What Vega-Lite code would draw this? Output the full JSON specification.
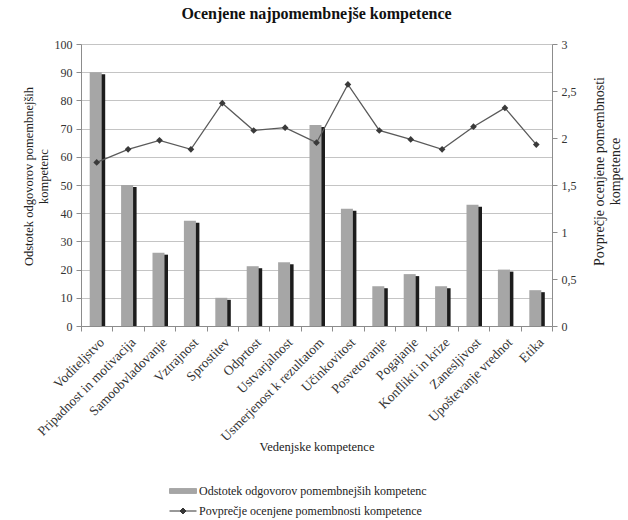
{
  "$schema": "https://vega.github.io/schema/vega-lite/v6.json",
  "width": 471,
  "height": 282,
  "autosize": {"type": "none"},
  "padding": {"left": 81, "top": 44, "right": 76, "bottom": 194},
  "background": "white",
  "config": {
    "font": "Liberation Serif",
    "view": {"stroke": null},
    "axis": {
      "labelFont": "Liberation Serif",
      "titleFont": "Liberation Serif",
      "labelFontSize": 12,
      "titleFontSize": 12.5,
      "titleFontWeight": "normal",
      "labelColor": "#333333",
      "titleColor": "#222222",
      "domainColor": "#8c8c8c",
      "tickColor": "#8c8c8c",
      "tickSize": 5,
      "gridColor": "#c4c4c4"
    }
  },
  "title": {
    "text": "Ocenjene najpomembnejše kompetence",
    "font": "Liberation Serif",
    "fontSize": 16,
    "fontWeight": "bold",
    "color": "#111111",
    "offset": 16
  },
  "data": {
    "values": [
      {"k": "Voditeljstvo", "pct": 90, "avg": 1.74},
      {"k": "Pripadnost in motivacija", "pct": 50, "avg": 1.88},
      {"k": "Samoobvladovanje", "pct": 26, "avg": 1.975},
      {"k": "Vztrajnost", "pct": 37.3, "avg": 1.88},
      {"k": "Sprostitev", "pct": 10, "avg": 2.37},
      {"k": "Odprtost", "pct": 21.2, "avg": 2.08},
      {"k": "Ustvarjalnost", "pct": 22.6, "avg": 2.11},
      {"k": "Usmerjenost k rezultatom", "pct": 71.3, "avg": 1.95},
      {"k": "Učinkovitost", "pct": 41.6, "avg": 2.57},
      {"k": "Posvetovanje", "pct": 14.1, "avg": 2.08},
      {"k": "Pogajanje", "pct": 18.4, "avg": 1.985},
      {"k": "Konflikti in krize", "pct": 14.1, "avg": 1.88},
      {"k": "Zanesljivost", "pct": 43, "avg": 2.12},
      {"k": "Upoštevanje vrednot", "pct": 20, "avg": 2.32},
      {"k": "Etika", "pct": 12.7, "avg": 1.93}
    ]
  },
  "encoding": {
    "x": {
      "field": "k",
      "type": "nominal",
      "sort": null,
      "scale": {"paddingInner": 0, "paddingOuter": 0},
      "axis": {
        "title": "Vedenjske kompetence",
        "labelAngle": -45,
        "labelFontSize": 13.5,
        "tickBand": "extent",
        "labelPadding": 4,
        "titleY": 114
      }
    }
  },
  "layer": [
    {
      "layer": [
        {
          "mark": {"type": "bar", "color": "#1c1c1c", "size": 12, "xOffset": 2.5, "yOffset": 2, "clip": true},
          "encoding": {
            "y": {
              "field": "pct",
              "type": "quantitative",
              "scale": {"domain": [0, 100]},
              "axis": {
                "title": ["Odstotek odgovorov pomembnejših", "kompetenc"],
                "values": [0, 10, 20, 30, 40, 50, 60, 70, 80, 90, 100],
                "grid": true,
                "labelPadding": 4,
                "titleY": 132
              }
            }
          }
        },
        {
          "mark": {"type": "bar", "size": 12, "xOffset": -1},
          "encoding": {
            "y": {
              "field": "pct",
              "type": "quantitative",
              "scale": {"domain": [0, 100]},
              "axis": {
                "title": ["Odstotek odgovorov pomembnejših", "kompetenc"],
                "values": [0, 10, 20, 30, 40, 50, 60, 70, 80, 90, 100],
                "grid": true,
                "labelPadding": 4,
                "titleY": 132
              }
            },
            "color": {
              "datum": "Odstotek odgovorov pomembnejših kompetenc",
              "scale": {
                "domain": ["Odstotek odgovorov pomembnejših kompetenc", "Povprečje ocenjene pomembnosti kompetence"],
                "range": ["#a6a6a6", "#3a3a3a"]
              },
              "legend": {
                "title": null,
                "orient": "none",
                "legendX": 88,
                "legendY": 433,
                "direction": "vertical",
                "symbolSize": 729,
                "labelFont": "Liberation Serif",
                "labelFontSize": 12,
                "labelColor": "#222222",
                "labelLimit": 0,
                "labelOffset": 2,
                "rowPadding": -9,
                "symbolStrokeWidth": 1,
                "encode": {
                  "symbols": {
                    "update": {
                      "shape": {"signal": "datum.index === 0 ? 'M-1,-0.18H1V0.18H-1Z' : 'M-1,0H1M0,-0.22L0.22,0L0,0.22L-0.22,0Z'"},
                      "fill": {"signal": "datum.index === 0 ? '#a6a6a6' : '#333333'"},
                      "stroke": {"signal": "datum.index === 0 ? '#a6a6a6' : '#333333'"},
                      "strokeWidth": {"value": 1},
                      "opacity": {"value": 1},
                      "fillOpacity": {"value": 1}
                    }
                  }
                }
              }
            }
          }
        }
      ]
    },
    {
      "layer": [
        {
          "mark": {"type": "line", "color": "#5a5a5a", "strokeWidth": 1.3},
          "encoding": {
            "y": {
              "field": "avg",
              "type": "quantitative",
              "scale": {"domain": [0, 3]},
              "axis": {
                "orient": "right",
                "title": ["Povprečje ocenjene pomembnosti", "kompetence"],
                "titleAngle": -90,
                "titleFontSize": 14,
                "titlePadding": 14,
                "titleY": 127,
                "values": [0, 0.5, 1, 1.5, 2, 2.5, 3],
                "labelExpr": "replace(toString(datum.value), '.', ',')",
                "grid": false,
                "labelPadding": 4
              }
            }
          }
        },
        {
          "mark": {"type": "point", "shape": "diamond", "filled": true, "size": 45, "opacity": 1},
          "encoding": {
            "y": {
              "field": "avg",
              "type": "quantitative",
              "scale": {"domain": [0, 3]},
              "axis": {
                "orient": "right",
                "title": ["Povprečje ocenjene pomembnosti", "kompetence"],
                "titleAngle": -90,
                "titleFontSize": 14,
                "titlePadding": 14,
                "titleY": 127,
                "values": [0, 0.5, 1, 1.5, 2, 2.5, 3],
                "labelExpr": "replace(toString(datum.value), '.', ',')",
                "grid": false,
                "labelPadding": 4
              }
            },
            "color": {"datum": "Povprečje ocenjene pomembnosti kompetence"}
          }
        }
      ]
    }
  ],
  "resolve": {"scale": {"y": "independent"}}
}
